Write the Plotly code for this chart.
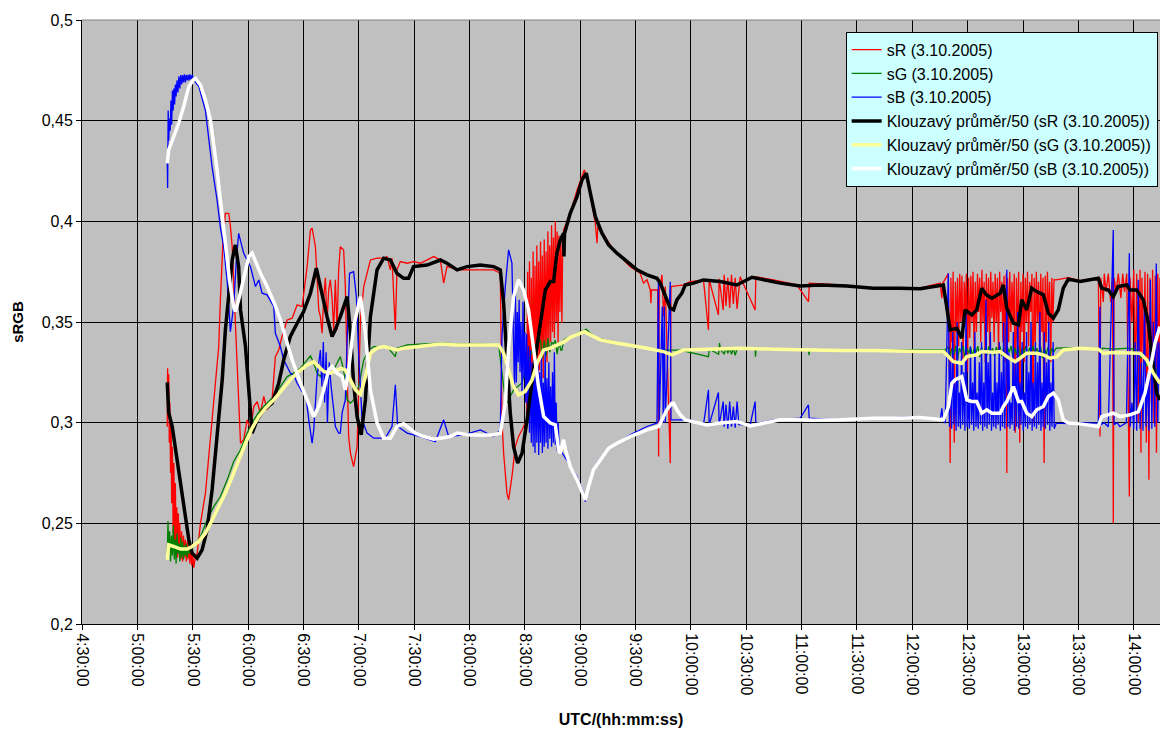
import pandas as pd
import plotly.graph_objects as go

# Measurement day and sample times (minutes after 00:00 UTC) with sRGB chromaticity values
DAY = "2005-10-03"

SR = [
    (316.2, 0.298), (316.4, 0.327), (316.7, 0.305), (317.0, 0.324), (317.3, 0.290), (317.6, 0.310),
    (318.0, 0.275), (318.3, 0.300), (318.6, 0.260), (319.0, 0.288), (319.4, 0.245), (319.8, 0.280),
    (320.2, 0.240), (320.6, 0.270), (321.0, 0.236), (321.4, 0.258), (321.8, 0.233), (322.2, 0.255),
    (322.6, 0.235), (323.0, 0.250), (323.5, 0.232), (324.0, 0.246), (324.5, 0.231), (325.0, 0.244),
    (325.5, 0.233), (326.0, 0.242), (326.5, 0.231), (327.0, 0.241), (327.5, 0.232), (328.0, 0.239),
    (328.5, 0.230), (329.0, 0.238), (329.5, 0.229), (330.0, 0.235), (330.6, 0.228), (331.5, 0.234),
    (332.4, 0.235), (334.2, 0.250), (336.9, 0.265), (339.6, 0.2915), (342.3, 0.3163), (344.1, 0.3378),
    (345.0, 0.361), (346.4, 0.390), (347.7, 0.404), (349.5, 0.404), (350.4, 0.398), (351.4, 0.3874),
    (353.1, 0.350), (354.9, 0.310), (355.9, 0.2898), (357.6, 0.2915), (359.5, 0.3014), (361.3, 0.2964),
    (363.1, 0.308), (364.9, 0.3105), (366.7, 0.3047), (368.5, 0.313), (370.3, 0.3064), (373.0, 0.3113),
    (374.8, 0.3328), (376.6, 0.3361), (378.4, 0.3428), (381.2, 0.351), (383.9, 0.3519), (386.6, 0.3585),
    (389.3, 0.3576), (391.1, 0.3709), (392.0, 0.3775), (393.8, 0.3957), (394.7, 0.3966), (396.5, 0.3874),
    (397.4, 0.3709), (398.3, 0.356), (399.2, 0.3527), (400.1, 0.3444), (401.0, 0.362), (401.9, 0.372),
    (402.8, 0.350), (403.7, 0.366), (404.6, 0.371), (405.5, 0.362), (406.4, 0.346), (407.3, 0.371),
    (408.2, 0.346), (409.1, 0.3759), (410.0, 0.3874), (411.8, 0.3858), (412.7, 0.3676), (413.7, 0.3262),
    (414.5, 0.2931), (415.5, 0.2848), (417.2, 0.2782), (419.1, 0.2881), (419.9, 0.3179), (420.9, 0.351),
    (422.7, 0.3676), (424.5, 0.3742), (426.3, 0.3808), (429.9, 0.3817), (433.5, 0.3817), (435.3, 0.3825),
    (437.1, 0.3759), (438.0, 0.3817), (439.8, 0.346), (440.7, 0.3759), (442.5, 0.380), (446.2, 0.3792),
    (449.7, 0.380), (453.4, 0.3792), (460.6, 0.3825), (464.2, 0.3808), (466.0, 0.3693), (467.8, 0.3775),
    (475.0, 0.3759), (485.9, 0.3759), (493.1, 0.3759), (496.7, 0.3742), (497.6, 0.3014), (498.5, 0.2848),
    (500.3, 0.265), (501.2, 0.2617), (503.0, 0.2732), (504.8, 0.2881), (506.6, 0.2931), (508.5, 0.2965),
    (510.2, 0.2998), (511.0, 0.300), (511.5, 0.375), (512.0, 0.302), (512.5, 0.380), (513.0, 0.305),
    (513.5, 0.372), (514.0, 0.310), (514.5, 0.385), (515.0, 0.312), (515.5, 0.378), (516.0, 0.318),
    (516.5, 0.388), (517.0, 0.322), (517.5, 0.380), (518.0, 0.326), (518.5, 0.390), (519.0, 0.330),
    (519.5, 0.383), (520.0, 0.322), (520.5, 0.391), (521.0, 0.335), (521.5, 0.385), (522.0, 0.330),
    (522.5, 0.395), (523.0, 0.338), (523.5, 0.388), (524.0, 0.340), (524.5, 0.398), (525.0, 0.345),
    (525.5, 0.392), (526.0, 0.342), (526.5, 0.400), (527.0, 0.350), (527.5, 0.395), (528.0, 0.340),
    (528.5, 0.393), (529.0, 0.355), (529.5, 0.392), (530.1, 0.3495), (530.5, 0.390), (531.0, 0.3957),
    (534.6, 0.404), (538.3, 0.4156), (541.0, 0.4222), (542.2, 0.4255), (543.7, 0.4222), (546.4, 0.4073),
    (548.2, 0.399), (549.1, 0.3891), (549.5, 0.397), (550.9, 0.3957), (554.5, 0.3908), (558.1, 0.3858),
    (561.7, 0.3825), (567.1, 0.3775), (572.5, 0.3742), (574.3, 0.3693), (576.2, 0.371), (578.0, 0.3659),
    (578.3, 0.3593), (578.6, 0.3659), (582.0, 0.3659), (582.5, 0.2832), (582.8, 0.365), (584.3, 0.3734),
    (585.2, 0.3527), (586.1, 0.3676), (588.8, 0.2799), (589.2, 0.3676), (596.0, 0.3684), (599.6, 0.3701),
    (606.8, 0.3709), (609.5, 0.3461), (609.9, 0.371), (614.9, 0.3535), (615.3, 0.3715), (617.5, 0.356),
    (618.0, 0.3734), (619.0, 0.358), (620.0, 0.372), (621.0, 0.357), (622.0, 0.3734), (623.0, 0.359),
    (624.0, 0.372), (625.0, 0.3565), (626.7, 0.3725), (634.8, 0.356), (635.2, 0.3725), (644.8, 0.3709),
    (657.4, 0.3684), (663.7, 0.3601), (664.2, 0.3693), (680.9, 0.3684), (698.9, 0.3668), (724.2, 0.3668),
    (735.1, 0.3693), (736.0, 0.3618), (736.5, 0.3693), (739.5, 0.374), (740.1, 0.330), (740.5, 0.280),
    (740.9, 0.372), (741.5, 0.340), (742.1, 0.375), (742.7, 0.290), (743.3, 0.370), (743.9, 0.345),
    (744.5, 0.372), (745.1, 0.338), (745.7, 0.374), (746.3, 0.350), (746.9, 0.373), (747.5, 0.330),
    (748.1, 0.370), (748.7, 0.355), (749.3, 0.374), (749.9, 0.325), (750.5, 0.372), (751.1, 0.342),
    (751.7, 0.373), (752.3, 0.350), (752.9, 0.375), (753.5, 0.335), (754.1, 0.370), (754.7, 0.345),
    (755.3, 0.374), (755.9, 0.355), (756.5, 0.372), (757.1, 0.340), (757.7, 0.376), (758.3, 0.350),
    (758.9, 0.370), (759.5, 0.330), (760.1, 0.374), (760.7, 0.345), (761.3, 0.372), (761.9, 0.338),
    (762.5, 0.375), (763.1, 0.352), (763.7, 0.370), (764.3, 0.340), (764.9, 0.374), (765.5, 0.350),
    (766.1, 0.372), (766.7, 0.335), (767.3, 0.375), (767.9, 0.355), (768.5, 0.370), (769.1, 0.340),
    (769.7, 0.373), (770.3, 0.330), (770.9, 0.374), (771.2, 0.275), (771.6, 0.372), (772.2, 0.340),
    (772.8, 0.375), (773.4, 0.345), (774.0, 0.370), (774.6, 0.350), (775.2, 0.374), (775.8, 0.295),
    (776.4, 0.372), (777.0, 0.340), (777.6, 0.375), (778.2, 0.290), (778.8, 0.370), (779.4, 0.345),
    (780.0, 0.374), (780.6, 0.330), (781.2, 0.372), (781.8, 0.350), (782.4, 0.375), (783.0, 0.338),
    (783.6, 0.370), (784.2, 0.355), (784.8, 0.374), (785.4, 0.300), (786.0, 0.372), (786.6, 0.340),
    (787.2, 0.375), (787.8, 0.350), (788.4, 0.370), (789.0, 0.335), (789.6, 0.374), (790.2, 0.345),
    (790.8, 0.372), (791.4, 0.280), (792.0, 0.373), (792.6, 0.340), (793.2, 0.375), (793.8, 0.350),
    (794.4, 0.370), (795.0, 0.330), (795.6, 0.372), (796.2, 0.350), (796.8, 0.371), (798.0, 0.3709),
    (804.5, 0.372), (810.9, 0.3705), (820.8, 0.372), (821.7, 0.2931), (822.1, 0.372), (823.5, 0.360),
    (824.0, 0.374), (825.0, 0.365), (826.2, 0.374), (827.5, 0.360), (828.5, 0.372), (828.9, 0.250),
    (829.3, 0.372), (830.5, 0.365), (831.6, 0.374), (833.0, 0.362), (834.0, 0.374), (835.0, 0.365),
    (836.2, 0.374), (837.6, 0.2633), (838.0, 0.372), (839.0, 0.350), (840.0, 0.376), (840.8, 0.320),
    (841.6, 0.374), (842.4, 0.300), (843.4, 0.376), (843.9, 0.285), (844.4, 0.372), (845.2, 0.330),
    (846.1, 0.375), (846.8, 0.290), (847.5, 0.374), (848.2, 0.2716), (848.8, 0.372), (849.5, 0.310),
    (850.2, 0.376), (850.9, 0.300), (851.6, 0.373), (852.3, 0.285), (853.0, 0.374), (853.6, 0.320),
    (854.2, 0.372),
]

SG = [
    (316.2, 0.233), (316.6, 0.251), (317.0, 0.236), (317.5, 0.246), (318.0, 0.231), (318.5, 0.244),
    (319.0, 0.234), (319.5, 0.249), (320.0, 0.232), (320.5, 0.242), (321.0, 0.230), (321.5, 0.245),
    (322.0, 0.235), (322.5, 0.240), (323.0, 0.231), (323.5, 0.243), (324.0, 0.233), (324.5, 0.241),
    (325.0, 0.232), (325.5, 0.239), (326.0, 0.234), (326.5, 0.240), (327.0, 0.233), (327.5, 0.238),
    (328.0, 0.235), (329.0, 0.237), (330.6, 0.2385), (334.2, 0.2434), (337.8, 0.2517), (341.4, 0.2583),
    (345.0, 0.2633), (348.7, 0.2716), (352.2, 0.2807), (355.9, 0.2865), (359.5, 0.2948), (363.1, 0.3014),
    (366.7, 0.3064), (370.3, 0.3097), (373.9, 0.313), (377.5, 0.3179), (381.2, 0.3229), (384.7, 0.3246),
    (388.4, 0.3271), (392.0, 0.3312), (393.8, 0.3332), (395.6, 0.3295), (397.4, 0.3246), (399.2, 0.3229),
    (401.0, 0.3262), (403.7, 0.3229), (406.4, 0.3262), (408.2, 0.3295), (410.0, 0.3328), (411.8, 0.3262),
    (413.7, 0.3113), (415.5, 0.3097), (417.2, 0.3113), (419.9, 0.3179), (422.7, 0.3312), (425.4, 0.3361),
    (428.1, 0.3378), (435.3, 0.3378), (439.8, 0.3328), (440.7, 0.337), (446.2, 0.3386), (455.2, 0.3391),
    (465.0, 0.3395), (475.0, 0.3391), (485.9, 0.3391), (495.8, 0.3386), (497.6, 0.3262), (499.4, 0.3113),
    (500.3, 0.3097), (503.9, 0.3163), (508.3, 0.3196), (512.0, 0.3295), (514.7, 0.3378), (518.4, 0.3411),
    (519.5, 0.332), (520.5, 0.341), (521.5, 0.333), (522.5, 0.342), (523.5, 0.335), (524.5, 0.340),
    (525.5, 0.339), (526.5, 0.341), (527.5, 0.334), (528.5, 0.340), (529.5, 0.3361), (530.1, 0.3361),
    (531.0, 0.341), (532.8, 0.342), (538.3, 0.3444), (543.3, 0.3464), (545.5, 0.3444), (549.1, 0.342),
    (558.1, 0.3403), (567.1, 0.3386), (576.2, 0.337), (585.2, 0.3361), (590.6, 0.3361), (594.2, 0.336),
    (609.5, 0.3328), (610.0, 0.3365), (615.0, 0.3340), (615.5, 0.3395), (616.0, 0.3365), (618.0, 0.3340),
    (619.0, 0.3375), (620.0, 0.3345), (621.0, 0.3370), (622.0, 0.3340), (623.0, 0.3370), (624.0, 0.3335),
    (625.0, 0.3365), (634.8, 0.3365), (635.0, 0.3328), (635.3, 0.3365), (663.7, 0.3361), (664.0, 0.3335),
    (664.3, 0.3361), (724.2, 0.3358), (737.8, 0.3361), (739.5, 0.3378), (740.5, 0.3330), (741.5, 0.3370),
    (742.5, 0.3340), (743.5, 0.3380), (744.5, 0.3310), (745.5, 0.3370), (746.5, 0.3350), (747.5, 0.3380),
    (748.5, 0.3320), (749.5, 0.3370), (750.5, 0.3345), (751.5, 0.3375), (752.5, 0.3330), (753.5, 0.3370),
    (754.5, 0.3350), (755.5, 0.3380), (756.5, 0.3325), (757.5, 0.3375), (758.5, 0.3345), (759.5, 0.3370),
    (760.5, 0.3335), (761.5, 0.3380), (762.5, 0.3350), (763.5, 0.3370), (764.5, 0.3330), (765.5, 0.3375),
    (766.5, 0.3345), (767.5, 0.3380), (768.5, 0.3330), (769.5, 0.3370), (770.5, 0.3320), (771.5, 0.3375),
    (772.5, 0.3350), (773.5, 0.3380), (774.5, 0.3325), (775.5, 0.3370), (776.5, 0.3340), (777.5, 0.3378),
    (778.5, 0.3320), (779.5, 0.3370), (780.5, 0.3345), (781.5, 0.3380), (782.5, 0.3335), (783.5, 0.3372),
    (784.5, 0.3350), (785.5, 0.3380), (786.5, 0.3330), (787.5, 0.3370), (788.5, 0.3345), (789.5, 0.3378),
    (790.5, 0.3320), (791.5, 0.3370), (792.5, 0.3340), (793.5, 0.3375), (794.5, 0.3330), (795.5, 0.3370),
    (796.5, 0.3350), (798.0, 0.3370), (810.9, 0.3372), (820.8, 0.3368), (822.0, 0.3340), (823.0, 0.3370),
    (829.0, 0.3365), (837.0, 0.3370), (840.0, 0.3365), (842.0, 0.3360), (844.0, 0.3320), (845.5, 0.3350),
    (847.0, 0.3280), (848.5, 0.3320), (850.0, 0.3250), (851.5, 0.3290), (853.0, 0.3220), (854.2, 0.3200),
]

SB = [
    (316.2, 0.430), (316.4, 0.4166), (316.7, 0.455), (317.0, 0.440), (317.4, 0.451), (317.8, 0.445),
    (318.2, 0.460), (318.6, 0.448), (319.0, 0.465), (319.4, 0.455), (319.8, 0.466), (320.2, 0.458),
    (320.6, 0.468), (321.0, 0.462), (321.5, 0.470), (322.0, 0.464), (322.5, 0.472), (323.0, 0.466),
    (323.5, 0.4727), (324.0, 0.468), (324.5, 0.4727), (325.0, 0.469), (325.5, 0.473), (326.0, 0.469),
    (326.5, 0.4727), (327.0, 0.470), (327.5, 0.4727), (328.0, 0.470), (328.5, 0.473), (329.0, 0.4705),
    (329.7, 0.4727), (330.6, 0.471), (331.5, 0.469), (333.3, 0.467), (336.9, 0.455), (340.5, 0.427),
    (343.2, 0.4106), (345.0, 0.397), (346.8, 0.3874), (348.7, 0.370), (350.4, 0.3452), (352.2, 0.358),
    (353.6, 0.380), (354.9, 0.394), (357.6, 0.3842), (361.3, 0.3775), (364.0, 0.3676), (365.8, 0.3709),
    (367.6, 0.3643), (370.3, 0.3635), (373.0, 0.3593), (373.9, 0.3577), (374.8, 0.3444), (377.5, 0.3378),
    (379.3, 0.3312), (382.9, 0.3246), (384.7, 0.3237), (386.6, 0.3196), (389.3, 0.3154), (391.1, 0.3146),
    (392.9, 0.3014), (394.7, 0.2898), (395.6, 0.2964), (397.4, 0.3229), (399.2, 0.3361), (400.0, 0.318),
    (400.8, 0.340), (401.5, 0.310), (402.3, 0.335), (403.0, 0.300), (404.0, 0.330), (405.0, 0.318),
    (406.4, 0.3064), (407.3, 0.2981), (409.1, 0.2948), (410.0, 0.2948), (411.0, 0.3050), (412.7, 0.3113),
    (414.0, 0.350), (415.0, 0.3742), (417.2, 0.375), (418.7, 0.3626), (419.9, 0.3345), (421.8, 0.3014),
    (424.5, 0.2948), (428.1, 0.2923), (434.4, 0.2923), (438.0, 0.2981), (439.8, 0.3188), (441.1, 0.2981),
    (446.2, 0.2948), (453.4, 0.2931), (461.5, 0.2906), (466.0, 0.3014), (468.7, 0.2931), (476.8, 0.294),
    (485.9, 0.2964), (493.1, 0.2931), (496.7, 0.2964), (497.6, 0.3428), (499.4, 0.3676), (501.2, 0.3858),
    (503.0, 0.3792), (503.9, 0.3361), (504.4, 0.3163), (504.9, 0.3643), (505.4, 0.320), (505.9, 0.355),
    (506.4, 0.330), (506.9, 0.361), (507.4, 0.325), (507.9, 0.350), (508.5, 0.315), (509.0, 0.360),
    (509.5, 0.322), (510.0, 0.345), (510.5, 0.310), (511.0, 0.344), (511.5, 0.300), (512.0, 0.338),
    (512.5, 0.295), (513.0, 0.336), (513.5, 0.290), (514.0, 0.330), (514.5, 0.288), (515.0, 0.335),
    (515.5, 0.285), (516.0, 0.326), (516.5, 0.290), (517.0, 0.330), (517.5, 0.284), (518.0, 0.325),
    (518.5, 0.290), (519.0, 0.335), (519.5, 0.285), (520.0, 0.320), (520.5, 0.288), (521.0, 0.336),
    (521.5, 0.290), (522.0, 0.322), (522.5, 0.287), (523.0, 0.330), (523.5, 0.292), (524.0, 0.318),
    (524.5, 0.288), (525.0, 0.325), (525.5, 0.290), (526.0, 0.335), (526.5, 0.289), (527.0, 0.310),
    (527.5, 0.286), (528.0, 0.300), (528.5, 0.290), (529.2, 0.2865), (532.8, 0.2815), (538.3, 0.2732),
    (541.9, 0.265), (542.7, 0.2608), (545.5, 0.2716), (549.1, 0.2799), (554.5, 0.2865), (559.9, 0.2898),
    (567.1, 0.294), (576.2, 0.2981), (581.6, 0.2998), (582.4, 0.371), (582.8, 0.2998), (584.5, 0.3576),
    (585.0, 0.300), (585.6, 0.3576), (586.1, 0.300), (588.8, 0.370), (589.2, 0.3014), (594.2, 0.3014),
    (599.6, 0.3014), (606.8, 0.2989), (609.5, 0.3163), (609.9, 0.2989), (614.9, 0.315), (615.3, 0.2989),
    (617.5, 0.3105), (618.0, 0.298), (619.0, 0.309), (620.0, 0.297), (621.0, 0.3105), (622.0, 0.298),
    (623.0, 0.308), (624.0, 0.2975), (625.0, 0.3105), (626.0, 0.299), (632.1, 0.2989), (634.8, 0.3105),
    (635.2, 0.2995), (644.8, 0.3014), (659.2, 0.3022), (663.7, 0.3088), (664.1, 0.3022), (680.9, 0.3014),
    (698.9, 0.3022), (724.2, 0.303), (735.1, 0.3014), (736.0, 0.3071), (736.5, 0.3014), (737.8, 0.2998),
    (739.5, 0.3742), (740.1, 0.298), (740.7, 0.330), (741.3, 0.297), (741.9, 0.345), (742.5, 0.299),
    (743.1, 0.320), (743.7, 0.296), (744.3, 0.350), (744.9, 0.298), (745.5, 0.315), (746.1, 0.297),
    (746.7, 0.340), (747.3, 0.299), (747.9, 0.325), (748.5, 0.296), (749.1, 0.355), (749.7, 0.298),
    (750.3, 0.310), (750.9, 0.297), (751.5, 0.338), (752.1, 0.299), (752.7, 0.320), (753.3, 0.296),
    (753.9, 0.345), (754.5, 0.298), (755.1, 0.315), (755.7, 0.297), (756.3, 0.330), (756.9, 0.299),
    (757.5, 0.340), (758.1, 0.296), (758.7, 0.320), (759.3, 0.298), (759.9, 0.361), (760.5, 0.297),
    (761.1, 0.330), (761.7, 0.299), (762.3, 0.345), (762.9, 0.296), (763.5, 0.315), (764.1, 0.298),
    (764.7, 0.335), (765.3, 0.297), (765.9, 0.320), (766.5, 0.299), (767.1, 0.340), (767.7, 0.296),
    (768.3, 0.325), (768.9, 0.298), (769.5, 0.350), (770.1, 0.297), (770.7, 0.320), (771.2, 0.3759),
    (771.7, 0.298), (772.3, 0.335), (772.9, 0.297), (773.5, 0.310), (774.1, 0.299), (774.7, 0.345),
    (775.3, 0.296), (775.9, 0.330), (776.5, 0.298), (777.1, 0.355), (777.7, 0.297), (778.3, 0.320),
    (778.9, 0.299), (779.5, 0.340), (780.1, 0.296), (780.7, 0.315), (781.3, 0.298), (781.9, 0.345),
    (782.5, 0.297), (783.1, 0.325), (783.7, 0.299), (784.3, 0.350), (784.9, 0.296), (785.5, 0.320),
    (786.1, 0.298), (786.7, 0.340), (787.3, 0.297), (787.9, 0.330), (788.5, 0.299), (789.1, 0.355),
    (789.7, 0.296), (790.3, 0.320), (790.9, 0.298), (791.5, 0.345), (792.1, 0.297), (792.7, 0.330),
    (793.3, 0.299), (793.9, 0.350), (794.5, 0.296), (795.1, 0.320), (795.7, 0.298), (796.3, 0.340),
    (796.9, 0.297), (798.0, 0.2998), (804.5, 0.2995), (810.9, 0.300), (820.8, 0.2998), (821.7, 0.3576),
    (822.1, 0.299), (824.0, 0.300), (826.2, 0.298), (828.9, 0.3957), (829.3, 0.299), (831.0, 0.300),
    (832.5, 0.298), (836.0, 0.300), (837.6, 0.3842), (838.0, 0.298), (839.0, 0.310), (840.0, 0.297),
    (840.8, 0.340), (841.6, 0.296), (842.4, 0.371), (843.4, 0.297), (844.2, 0.330), (845.0, 0.296),
    (845.8, 0.360), (846.6, 0.298), (847.4, 0.325), (848.2, 0.296), (849.0, 0.371), (849.8, 0.297),
    (850.6, 0.350), (851.4, 0.298), (852.2, 0.379), (853.0, 0.300), (853.6, 0.340), (854.2, 0.320),
]

# 50-point moving averages
MA_R = [
    (316.2, 0.320), (317.0, 0.305), (318.9, 0.298), (321.6, 0.2815), (324.3, 0.2666), (326.1, 0.2551),
    (327.9, 0.2418), (329.7, 0.2352), (332.4, 0.2327), (335.1, 0.2368), (337.8, 0.2468), (340.5, 0.2666),
    (343.2, 0.2915), (346.0, 0.3213), (347.7, 0.3461), (349.5, 0.3626), (351.4, 0.3808), (353.1, 0.3883),
    (354.9, 0.3775), (355.9, 0.356), (358.6, 0.3378), (360.4, 0.3163), (362.2, 0.2948), (364.9, 0.3014),
    (368.5, 0.3064), (373.0, 0.3097), (376.6, 0.3196), (379.3, 0.3312), (382.9, 0.3428), (386.6, 0.3494),
    (390.1, 0.3552), (393.8, 0.3643), (395.6, 0.3709), (397.0, 0.3767), (399.2, 0.3676), (401.0, 0.3593),
    (402.8, 0.3527), (405.5, 0.3428), (407.3, 0.3461), (410.0, 0.3527), (412.7, 0.361), (413.7, 0.3626),
    (415.5, 0.3444), (417.2, 0.3196), (419.1, 0.303), (421.3, 0.294), (423.6, 0.3113), (426.3, 0.3527),
    (429.9, 0.3759), (433.5, 0.3817), (437.1, 0.3808), (440.7, 0.3742), (444.3, 0.3717), (447.0, 0.3717),
    (449.7, 0.3775), (457.0, 0.3783), (464.2, 0.3808), (467.8, 0.3792), (473.3, 0.3759), (478.7, 0.3775),
    (485.9, 0.3783), (493.1, 0.3775), (496.7, 0.3759), (498.5, 0.3593), (500.3, 0.3312), (502.1, 0.3047),
    (503.9, 0.2881), (506.1, 0.2799), (508.5, 0.2848), (511.2, 0.3014), (514.7, 0.3262), (518.4, 0.351),
    (521.1, 0.3659), (523.8, 0.3701), (525.6, 0.3701), (526.5, 0.3775), (527.4, 0.3842), (529.2, 0.3908),
    (531.0, 0.3941), (531.2, 0.3825), (531.5, 0.394), (534.6, 0.404), (538.3, 0.4123), (541.0, 0.4206),
    (543.3, 0.4239), (545.5, 0.414), (548.2, 0.4023), (551.8, 0.3941), (555.4, 0.3883), (559.9, 0.3842),
    (565.3, 0.380), (570.8, 0.3759), (576.2, 0.3734), (581.6, 0.3717), (583.4, 0.3693), (586.1, 0.3626),
    (588.8, 0.3568), (590.6, 0.356), (592.4, 0.361), (595.1, 0.3643), (596.9, 0.3684), (601.4, 0.3693),
    (606.8, 0.3709), (615.9, 0.3701), (624.9, 0.3684), (633.1, 0.3722), (639.3, 0.3709), (648.4, 0.3693),
    (659.2, 0.3679), (670.1, 0.3684), (684.5, 0.3679), (698.9, 0.3668), (713.4, 0.3668), (724.2, 0.3665),
    (736.8, 0.3684), (738.7, 0.3576), (740.5, 0.3461), (744.1, 0.3469), (746.8, 0.342), (748.6, 0.356),
    (752.2, 0.3535), (754.9, 0.356), (757.6, 0.3668), (760.0, 0.3635), (763.1, 0.3618), (767.6, 0.3643),
    (769.3, 0.3684), (771.2, 0.3568), (774.8, 0.3494), (777.5, 0.3486), (779.3, 0.361), (782.0, 0.356),
    (784.7, 0.3668), (787.4, 0.3651), (791.0, 0.3635), (793.7, 0.3544), (796.4, 0.3519), (799.1, 0.356),
    (801.8, 0.3668), (804.5, 0.3713), (810.9, 0.3701), (820.8, 0.3717), (822.6, 0.3668), (826.2, 0.3659),
    (828.9, 0.3626), (831.6, 0.3676), (836.2, 0.3684), (838.0, 0.3659), (841.6, 0.3659), (845.2, 0.361),
    (847.9, 0.3494), (850.6, 0.3279), (852.4, 0.3147), (854.2, 0.3113),
]

MA_G = [
    (316.2, 0.2319), (317.0, 0.2393), (319.7, 0.2385), (323.4, 0.2372), (327.0, 0.2372), (329.7, 0.2385),
    (333.3, 0.241), (336.9, 0.2451), (340.5, 0.2517), (344.1, 0.2583), (347.7, 0.265), (351.4, 0.2732),
    (354.9, 0.2815), (358.6, 0.2898), (362.2, 0.2973), (365.8, 0.303), (369.4, 0.3072), (373.9, 0.3113),
    (378.4, 0.3163), (382.9, 0.3213), (387.4, 0.3254), (392.0, 0.3287), (395.6, 0.3303), (398.3, 0.3279),
    (401.0, 0.3254), (404.6, 0.3246), (408.2, 0.3262), (410.5, 0.327), (412.7, 0.3262), (415.5, 0.3213),
    (418.2, 0.3163), (420.9, 0.314), (423.6, 0.3229), (426.3, 0.3345), (429.9, 0.337), (433.5, 0.3378),
    (437.1, 0.337), (440.7, 0.3361), (444.3, 0.337), (449.7, 0.3375), (456.9, 0.3381), (464.2, 0.3391),
    (473.3, 0.3386), (485.9, 0.3388), (495.8, 0.3386), (498.5, 0.3345), (501.2, 0.3262), (503.9, 0.3179),
    (506.6, 0.3138), (510.2, 0.3155), (513.9, 0.3213), (516.6, 0.3295), (520.2, 0.3361), (523.8, 0.337),
    (527.4, 0.3385), (531.0, 0.340), (534.6, 0.3424), (538.3, 0.3436), (542.2, 0.3452), (545.5, 0.3436),
    (550.9, 0.3411), (558.1, 0.3398), (567.1, 0.3386), (576.2, 0.337), (585.2, 0.3353), (589.7, 0.3337),
    (596.0, 0.3361), (608.7, 0.3365), (626.7, 0.337), (644.8, 0.3365), (662.8, 0.3361), (680.9, 0.3358),
    (698.9, 0.3358), (713.4, 0.3353), (724.2, 0.3353), (736.8, 0.3353), (739.6, 0.3328), (742.3, 0.3303),
    (746.8, 0.3295), (749.5, 0.3328), (754.9, 0.3337), (757.6, 0.3353), (763.9, 0.335), (767.6, 0.3353),
    (771.2, 0.3328), (775.7, 0.3303), (778.4, 0.332), (782.0, 0.3345), (787.4, 0.3345), (791.0, 0.3337),
    (794.6, 0.332), (798.3, 0.3328), (801.8, 0.3361), (810.9, 0.337), (820.8, 0.3365), (823.5, 0.3345),
    (828.9, 0.3348), (838.0, 0.3348), (843.4, 0.3345), (847.0, 0.3312), (850.6, 0.3246), (854.2, 0.3196),
]

MA_B = [
    (316.2, 0.4288), (317.0, 0.4355), (319.7, 0.4421), (322.4, 0.4487), (325.1, 0.457), (327.9, 0.4669),
    (330.6, 0.4706), (331.5, 0.471), (334.2, 0.4677), (336.9, 0.4603), (339.6, 0.4503), (341.4, 0.4388),
    (343.2, 0.4255), (345.0, 0.4106), (346.8, 0.3957), (348.7, 0.3808), (350.4, 0.3676), (352.2, 0.3577),
    (353.1, 0.3552), (354.9, 0.361), (357.6, 0.3725), (360.4, 0.3825), (362.2, 0.3842), (364.0, 0.380),
    (366.7, 0.3742), (370.3, 0.3676), (373.0, 0.362), (374.8, 0.358), (377.5, 0.351), (380.2, 0.3428),
    (383.9, 0.3312), (388.4, 0.3196), (392.0, 0.3113), (395.6, 0.303), (398.3, 0.308), (401.0, 0.3163),
    (403.7, 0.3262), (405.5, 0.3279), (408.2, 0.3246), (411.0, 0.3229), (412.7, 0.3163), (414.5, 0.3262),
    (417.2, 0.3477), (420.9, 0.3626), (423.6, 0.3444), (426.3, 0.3163), (429.9, 0.2998), (433.5, 0.2923),
    (437.1, 0.2923), (440.7, 0.2981), (444.3, 0.2994), (447.0, 0.2973), (450.7, 0.2948), (455.2, 0.2931),
    (460.6, 0.2918), (466.0, 0.2925), (469.6, 0.2931), (473.3, 0.2948), (478.7, 0.294), (485.9, 0.2938),
    (493.1, 0.294), (496.7, 0.2948), (499.4, 0.3097), (501.2, 0.3378), (503.9, 0.3626), (506.6, 0.371),
    (509.3, 0.3659), (512.0, 0.356), (514.7, 0.3378), (517.4, 0.3179), (520.2, 0.303), (523.8, 0.2998),
    (526.5, 0.2989), (528.3, 0.2865), (529.2, 0.2848), (531.0, 0.2915), (532.0, 0.2865), (534.6, 0.2782),
    (538.3, 0.2716), (541.0, 0.265), (542.7, 0.2617), (544.5, 0.2683), (547.2, 0.2766), (550.9, 0.2815),
    (555.4, 0.2873), (559.9, 0.2898), (567.1, 0.2931), (576.2, 0.2964), (582.5, 0.2981), (584.3, 0.3014),
    (587.0, 0.3064), (589.7, 0.3097), (590.6, 0.3097), (592.4, 0.3064), (594.2, 0.3039), (596.9, 0.3014),
    (601.4, 0.3006), (608.7, 0.2989), (615.9, 0.2998), (624.9, 0.3006), (632.1, 0.2984), (639.3, 0.2998),
    (648.4, 0.3014), (657.4, 0.3014), (666.4, 0.3012), (680.9, 0.3014), (698.9, 0.3022), (713.4, 0.3022),
    (724.2, 0.3026), (736.8, 0.3014), (739.6, 0.308), (741.4, 0.3196), (743.2, 0.3213), (746.8, 0.3229),
    (749.5, 0.3113), (752.2, 0.3105), (754.9, 0.3105), (757.6, 0.3047), (760.3, 0.3064), (763.1, 0.3047),
    (767.6, 0.3047), (769.3, 0.308), (771.2, 0.3105), (774.8, 0.3179), (777.5, 0.3105), (779.3, 0.3105),
    (782.0, 0.3047), (784.7, 0.303), (787.4, 0.3064), (791.0, 0.308), (793.7, 0.313), (796.4, 0.3147),
    (799.1, 0.3113), (801.8, 0.3014), (804.5, 0.2998), (810.9, 0.2994), (820.8, 0.2981), (822.6, 0.303),
    (828.9, 0.3047), (832.6, 0.303), (838.0, 0.3039), (842.5, 0.3055), (846.1, 0.3147), (848.8, 0.3262),
    (851.5, 0.3395), (854.2, 0.3477),
]

NAMES = [
    "sR (3.10.2005)",
    "sG (3.10.2005)",
    "sB (3.10.2005)",
    "Klouzavý průměr/50 (sR (3.10.2005))",
    "Klouzavý průměr/50 (sG (3.10.2005))",
    "Klouzavý průměr/50 (sB (3.10.2005))",
]
Y_TICKS = [0.2, 0.25, 0.3, 0.35, 0.4, 0.45, 0.5]
Y_LABELS = ["0,2", "0,25", "0,3", "0,35", "0,4", "0,45", "0,5"]

base = pd.Timestamp(DAY)


def series(points):
    t = [base + pd.Timedelta(minutes=m) for m, _ in points]
    v = [val for _, val in points]
    return t, v


styles = [
    (SR, "#FF0000", 1.3),
    (SG, "#008000", 1.3),
    (SB, "#0000FF", 1.3),
    (MA_R, "#000000", 3.5),
    (MA_G, "#FFFF99", 3.5),
    (MA_B, "#FFFFFF", 3.5),
]

fig = go.Figure()
for (pts, color, width), name in zip(styles, NAMES):
    t, v = series(pts)
    fig.add_trace(go.Scatter(x=t, y=v, mode="lines", name=name,
                             line=dict(color=color, width=width)))

font = dict(family="Arial, Liberation Sans, sans-serif", color="black")

fig.update_layout(
    width=1160, height=729,
    margin=dict(l=82, r=0, t=20, b=105),
    paper_bgcolor="white",
    plot_bgcolor="#C0C0C0",
    font=dict(**font, size=16),
    showlegend=True,
    legend=dict(
        x=0.7084, y=0.9806, xanchor="left", yanchor="top",
        bgcolor="#CCFFFF", bordercolor="black", borderwidth=1,
        font=dict(**font, size=16), tracegroupgap=0,
    ),
    xaxis=dict(
        type="date",
        range=[f"{DAY} 04:30:00", f"{DAY} 14:14:13"],
        tick0=f"{DAY} 04:30:00", dtick=30 * 60 * 1000,
        tickformat="%-H:%M:%S", tickangle=90,
        ticks="outside", ticklen=5, tickcolor="black",
        showgrid=True, gridcolor="black", gridwidth=1,
        showline=True, linecolor="black", linewidth=1,
        tickfont=dict(**font, size=16),
        title=dict(text="<b>UTC/(hh:mm:ss)</b>", font=dict(**font, size=16), standoff=19),
        zeroline=False,
    ),
    yaxis=dict(
        range=[0.2, 0.5],
        tickvals=Y_TICKS, ticktext=Y_LABELS,
        ticks="outside", ticklen=5, tickcolor="black",
        showgrid=True, gridcolor="black", gridwidth=1,
        showline=True, linecolor="black", linewidth=1,
        tickfont=dict(**font, size=16),
        title=dict(text="<b>sRGB</b>", font=dict(**font, size=15), standoff=14),
        zeroline=False,
    ),
    shapes=[
        dict(type="line", xref="paper", yref="paper", x0=0, x1=1, y0=1, y1=1,
             line=dict(color="#808080", width=1), layer="above"),
    ],
)

fig.write_html("out.html")
